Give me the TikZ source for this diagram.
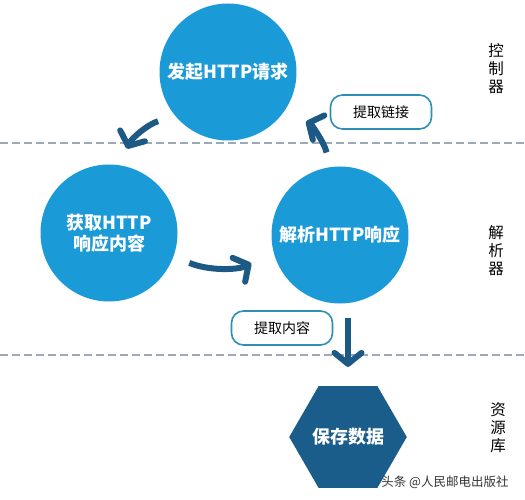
\documentclass[tikz,border=0pt]{standalone}
\usepackage{fontspec}
\setmainfont{Noto Sans CJK SC}
\usetikzlibrary{shapes.geometric}
\usetikzlibrary{arrows.meta}

\definecolor{stageblue}{HTML}{1B9AD8}
\definecolor{storeblue}{HTML}{1A5C8A}
\definecolor{flowblue}{HTML}{1D5985}
\definecolor{tagedge}{HTML}{2E8FB5}
\definecolor{laneline}{HTML}{9AAAB8}

\tikzset{
  stage/.style={circle, fill=stageblue, minimum size=137pt, inner sep=0pt,
    text=white, align=center, font=\fontsize{18}{21}\selectfont\bfseries},
  store/.style={regular polygon, regular polygon sides=6, fill=storeblue,
    minimum size=103pt, inner sep=0pt, text=white, font=\fontsize{18}{21}\selectfont\bfseries},
  tag/.style={draw=tagedge, line width=1.6pt, rounded corners=12pt, fill=white,
    minimum width=101pt, minimum height=34pt, font=\fontsize{14}{16}\selectfont},
  lane/.style={align=center, font=\fontsize{15.5}{18}\selectfont},
  flow/.style={draw=flowblue, line width=6pt,
    -{Straight Barb[length=11pt,width=27pt,round]}},
  divider/.style={draw=laneline, line width=1.2pt, dash pattern=on 8pt off 4pt},
}

\begin{document}
\begin{tikzpicture}[x=1pt, y=-1pt]
      \useasboundingbox (0,0) rectangle (525,500);

      % lanes
      \draw[divider] (0,143) -- (525,143);
      \draw[divider] (0,355) -- (525,355);

      \node[stage] (req)   at (228,72)  {发起HTTP请求};
      \node[stage] (fetch) at (109,233) {获取HTTP\\响应内容};
      \node[stage] (parse) at (340,235) {解析HTTP响应};
      \node[store] (save)  at (348,437) {保存数据};

      \node[tag] (link)    at (381,112) {提取链接};
      \node[tag] (content) at (282,328) {提取内容};

      \node[lane] (ctrl)   at (496,69)  {控\\制\\器};
      \node[lane] (parser) at (496,251) {解\\析\\器};
      \node[lane] (repo)   at (498,428) {资\\源\\库};

      \draw[flow, shorten <=18pt, shorten >=18pt] (req.220) to[bend right=25] (fetch.81);
      \draw[flow, shorten <=17pt, shorten >=25pt] (fetch.-20) to[bend right=25] (parse.194);
      \draw[flow, shorten <=15pt, shorten >=24pt] (parse.98) to[bend right=25] (req.-35);
      \draw[flow, shorten <=14pt, shorten >=19pt] (parse.south -| save.north) -- (save.north);

      \node[font=\fontsize{12.5}{14}\selectfont, text=black!80] (mark) at (445,482) {头条 @人民邮电出版社};
    \end{tikzpicture}
\end{document}
